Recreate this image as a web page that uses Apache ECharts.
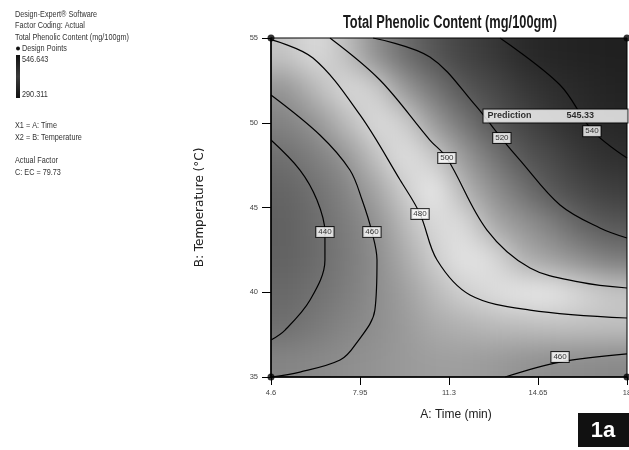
<!DOCTYPE html>
<html><head><meta charset="utf-8">
<script src="https://cdn.jsdelivr.net/npm/echarts@6/dist/echarts.min.js"></script>
<style>
html,body{margin:0;padding:0;background:#fff;}
#stage{position:relative;width:629px;height:450px;overflow:hidden;background:#fff;}
#wrap,#main{position:absolute;}
#wrap{left:271px;top:38px;width:356px;height:339px;overflow:hidden;}
#tiles{position:absolute;left:-356px;top:-339px;width:1068px;height:1017px;filter:blur(14px);}
.tile{position:absolute;width:356px;height:339px;}
#main{left:0;top:0;width:629px;height:450px;}
</style></head><body>
<div id="stage"><div id="wrap"><div id="tiles"></div></div><div id="main"></div></div>
<script>
// ---- data ----
const timeTicks = [4.6, 7.95, 11.3, 14.65, 18];
const timeTickLabels = ['4.6', '7.95', '11.3', '14.65', '18'];
const tempTicks = [35, 40, 45, 50, 55];
const tempTickLabels = ['35', '40', '45', '50', '55'];

// estimated surface values (mg/100gm) at cell centres
const timeCenters = [5.16, 6.28, 7.39, 8.51, 9.62, 10.74, 11.86, 12.97, 14.09, 15.2, 16.32, 17.44];
const tempCenters = [36, 38, 40, 42, 44, 46, 48, 50, 52, 54];
const tpc36 = [455, 458, 461, 463, 465, 466, 466, 465, 463, 461, 460, 458];
const tpc38 = [440, 447, 455, 461, 465, 469, 471, 473, 474, 475, 475, 475];
const tpc40 = [435, 441, 450, 460, 466, 473, 480, 484, 488, 491, 494, 497];
const tpc42 = [430, 437, 448, 459, 469, 479, 487, 493, 501, 504, 508, 512];
const tpc44 = [429, 438, 449, 462, 473, 483, 493, 502, 506, 511, 517, 521];
const tpc46 = [432, 441, 454, 467, 479, 490, 500, 507, 514, 521, 526, 530];
const tpc48 = [440, 451, 463, 475, 486, 496, 505, 513, 521, 526, 532, 537];
const tpc50 = [453, 463, 473, 484, 495, 505, 513, 521, 527, 533, 539, 542];
const tpc52 = [463, 473, 483, 495, 505, 513, 521, 526, 532, 538, 541, 544];
const tpc54 = [476, 484, 498, 507, 515, 522, 528, 532, 540, 543, 545, 546];
const tpcRows = [tpc36, tpc38, tpc40, tpc42, tpc44, tpc46, tpc48, tpc50, tpc52, tpc54];

// contour lines [time, temperature]
const c440 = [[4.6,48.98],[5.69,47.21],[6.33,45.44],[6.63,43.55],[6.63,41.9],[6.07,39.54],[5.13,37.77],[4.6,37.18]];
const c460a = [[4.6,51.64],[6.44,49.28],[7.57,47.21],[8.03,45.44],[8.4,43.55],[8.59,41.9],[8.51,38.95],[7.76,36.88],[7.2,36.0],[5.69,35.29],[4.6,35.0]];
const c460b = [[13.41,35.0],[15.48,35.88],[18,36.36]];
const c480 = [[4.6,54.9],[6.18,53.82],[7.95,50.46],[9.46,46.62],[10.21,44.62],[10.85,41.9],[12.09,39.84],[14.35,38.95],[18,38.48]];
const c500 = [[6.82,55],[8.7,52.52],[10.58,48.98],[11.22,47.92],[12.73,43.67],[14.35,41.43],[16.23,40.6],[18,40.25]];
const c520 = [[8.44,55],[10.58,53.88],[12.28,51.05],[13.33,48.98],[13.97,47.8],[15.48,45.15],[16.98,43.79],[18,43.2]];
const c540 = [[13.22,55],[15.48,52.23],[16.68,49.57],[18,47.92]];
const contourLines = [c440, c460a, c460b, c480, c500, c520, c540];

const labelValues = [440, 460, 480, 500, 520, 540, 460];
const labelTime = [6.63, 8.4, 10.21, 11.22, 13.29, 16.68, 15.48];
const labelTemp = [43.55, 43.55, 44.62, 47.92, 49.1, 49.5, 36.18];

const designTime = [4.6, 18, 4.6, 18];
const designTemp = [55, 55, 35, 35];

const predictionValue = '545.33';
const predictionAt = [12.58, 50.4];

const grayStops = ['#555555','#676767','#7a7a7a','#8f8f8f','#c4c4c4','#efefef','#9e9e9e','#606060','#383838','#202020'];

const FONT = "'Liberation Sans Narrow','Arial Narrow','Liberation Sans',Arial,sans-serif";

function heatOption(){
  const data = [];
  tpcRows.forEach((row, j) => row.forEach((v, i) => data.push([i, j, v])));
  return {
    animation: false,
    grid: {left: 0, right: 0, top: 0, bottom: 0, outerBoundsMode: 'none'},
    xAxis: {type: 'category', data: timeCenters, show: false},
    yAxis: {type: 'category', data: tempCenters, show: false},
    visualMap: {show: false, min: 420, max: 546, inRange: {color: grayStops}},
    series: [{type: 'heatmap', data: data, itemStyle: {borderWidth: 0}}]
  };
}
// the shaded surface, drawn once in the middle and mirrored around it so the blur has no edges
const tiles = document.getElementById('tiles');
for (let r = 0; r < 3; r++) {
  for (let c = 0; c < 3; c++) {
    const d = document.createElement('div');
    d.className = 'tile';
    d.style.left = (c * 356) + 'px';
    d.style.top = (r * 339) + 'px';
    const sx = c === 1 ? 1 : -1, sy = r === 1 ? 1 : -1;
    d.style.transform = 'scale(' + sx + ',' + sy + ')';
    tiles.appendChild(d);
    echarts.init(d).setOption(heatOption());
  }
}

function tickFmt(ticks, labels){
  return v => { const i = ticks.findIndex(t => Math.abs(t - v) < 1e-6); return i >= 0 ? labels[i] : ''; };
}
const measureCtx = document.createElement('canvas').getContext('2d');
function textWidth(text, font){ measureCtx.font = font; return measureCtx.measureText(text).width; }

const series = [];
contourLines.forEach(pts => series.push({
  type: 'line', data: pts, smooth: 0.35, symbol: 'none', silent: true,
  lineStyle: {color: '#000', width: 1.2}, z: 3
}));
series.push({
  type: 'scatter', symbolSize: 1, itemStyle: {color: 'rgba(0,0,0,0)'}, z: 5, silent: true,
  data: labelValues.map((v, i) => [labelTime[i], labelTemp[i], v]),
  label: {show: true, position: 'inside', formatter: p => String(p.value[2]),
    backgroundColor: '#fff', borderColor: '#000', borderWidth: 1, padding: [1, 2],
    fontSize: 8, fontFamily: FONT, color: '#000'}
});
series.push({
  type: 'scatter', symbolSize: 7, itemStyle: {color: '#000'}, z: 6, clip: false, silent: true,
  data: designTime.map((t, i) => [t, designTemp[i]])
});
series.push({
  type: 'scatter', symbolSize: 1, itemStyle: {color: 'rgba(0,0,0,0)'}, z: 8, silent: true,
  data: [predictionAt],
  label: {show: true, position: 'right', distance: 0,
    formatter: '{a|Prediction}{b|' + predictionValue + '}',
    backgroundColor: '#fff', borderColor: '#000', borderWidth: 1, padding: [2, 4],
    width: 136,
    rich: {a: {width: 79, fontSize: 9, fontWeight: 'bold', fontFamily: FONT, color: '#000'},
           b: {fontSize: 9, fontWeight: 'bold', fontFamily: FONT, color: '#000'}}}
});

const leftLines = [
  ['Design-Expert\u00ae Software', 14, 15],
  ['Factor Coding: Actual', 25.5, 15],
  ['Total Phenolic Content (mg/100gm)', 37, 15],
  ['Design Points', 48.5, 22],
  ['546.643', 59, 22],
  ['290.311', 94, 22],
  ['X1 = A: Time', 125, 15],
  ['X2 = B: Temperature', 137, 15],
  ['Actual Factor', 160, 15],
  ['C: EC = 79.73', 172, 15]
];
const leftFont = "9.5px " + FONT;
const leftScale = Math.min(1, 114 / textWidth('Total Phenolic Content (mg/100gm)', leftFont));
const graphics = leftLines.map(l => ({
  type: 'text', x: l[2], y: l[1], scaleX: leftScale,
  style: {text: l[0], x: 0, y: 0, fontSize: 9.5, fontFamily: FONT, fill: '#333', verticalAlign: 'middle'}
}));
graphics.push({type: 'circle', shape: {cx: 18, cy: 48.5, r: 2}, style: {fill: '#111'}});
graphics.push({type: 'rect', shape: {x: 16, y: 55, width: 4, height: 43},
  style: {fill: new echarts.graphic.LinearGradient(0, 0, 0, 1, [
    {offset: 0, color: '#111'}, {offset: 0.5, color: '#3a3a3a'}, {offset: 1, color: '#111'}])}});
const titleText = 'Total Phenolic Content (mg/100gm)';
const titleScale = Math.min(1, 214 / textWidth(titleText, "bold 18px " + FONT));
graphics.push({type: 'text', x: 450, y: 23, scaleX: titleScale,
  style: {text: titleText, x: 0, y: 0, fontSize: 18, fontWeight: 'bold', fontFamily: FONT, fill: '#1a1a1a',
          align: 'center', verticalAlign: 'middle'}});
graphics.push({type: 'rect', shape: {x: 578, y: 413, width: 51, height: 34}, style: {fill: '#111'}});
graphics.push({type: 'text', x: 603, y: 431,
  style: {text: '1a', fontSize: 22, fontWeight: 'bold', fontFamily: "'Liberation Sans',Arial,sans-serif",
          fill: '#fff', align: 'center', verticalAlign: 'middle'}});

const main = echarts.init(document.getElementById('main'));
main.setOption({
  animation: false,
  grid: {left: 271, top: 38, width: 356, height: 339, show: true, borderColor: '#000', borderWidth: 1,
         backgroundColor: 'transparent', outerBoundsMode: 'none', containLabel: false},
  xAxis: {type: 'value', min: 4.6, max: 18, interval: 3.35,
    axisLine: {show: true, onZero: false, lineStyle: {color: '#000', width: 1.5}},
    axisTick: {show: true, length: 8, lineStyle: {color: '#000'}},
    splitLine: {show: false},
    axisLabel: {fontSize: 7.5, color: '#444', margin: 12, fontFamily: FONT, showMaxLabel: true,
                formatter: tickFmt(timeTicks, timeTickLabels)},
    name: 'A: Time (min)', nameLocation: 'middle', nameGap: 32,
    nameTextStyle: {fontSize: 12, fontFamily: FONT, color: '#222', padding: [0, 0, 0, 14]}},
  yAxis: {type: 'value', min: 35, max: 55, interval: 5,
    axisLine: {show: true, onZero: false, lineStyle: {color: '#000', width: 1.5}},
    axisTick: {show: true, length: 9, lineStyle: {color: '#000'}},
    splitLine: {show: false},
    axisLabel: {fontSize: 7.5, color: '#444', margin: 13, fontFamily: FONT,
                formatter: tickFmt(tempTicks, tempTickLabels)},
    name: 'B: Temperature (\u00b0C)', nameLocation: 'middle', nameGap: 65,
    nameTextStyle: {fontSize: 12, fontFamily: "'DejaVu Sans',sans-serif", color: '#222'}},
  graphic: graphics,
  series: series
});
</script>
</body></html>
